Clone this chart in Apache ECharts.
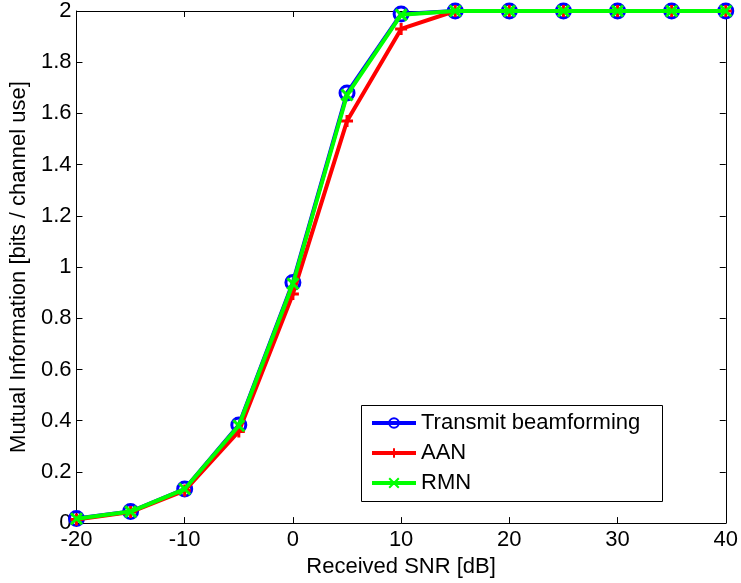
<!DOCTYPE html>
<html><head><meta charset="utf-8">
<script src="https://cdn.jsdelivr.net/npm/echarts@6/dist/echarts.min.js"></script>
<style>html,body{margin:0;padding:0;background:#fff}#c{width:741px;height:583px}</style>
</head><body><div id="c"></div>
<script>
const snr = [-20, -15, -10, -5, 0, 5, 10, 15, 20, 25, 30, 35, 40];
const transmitBF = [0.018, 0.045, 0.133, 0.383, 0.94, 1.68, 1.988, 2, 2, 2, 2, 2, 2];
const aan = [0.014, 0.043, 0.127, 0.358, 0.895, 1.57, 1.93, 2, 2, 2, 2, 2, 2];
const rmn = [0.017, 0.045, 0.133, 0.38, 0.935, 1.672, 1.985, 2, 2, 2, 2, 2, 2];
const seriesNames = ['Transmit beamforming', 'AAN', 'RMN'];
const xName = 'Received SNR [dB]';
const yName = 'Mutual Information [bits / channel use]';

const pair = (xs, ys) => xs.map((x, i) => [x, ys[i]]);
const font = 'Liberation Sans, Arial, sans-serif';
const FS = 22;
const axisCommon = {
  axisLine: {show: true, onZero: false, lineStyle: {color: '#000', width: 1}},
  axisTick: {show: true, inside: true, length: 6, lineStyle: {color: '#000'}},
  splitLine: {show: false},
  axisLabel: {color: '#000', fontSize: FS, fontFamily: font}
};
const colors = ['#0000ff', '#ff0000', '#00ff00'];
const chart = echarts.init(document.getElementById('c'), null, {renderer: 'canvas'});
chart.setOption({
  animation: false,
  backgroundColor: '#fff',
  grid: {left: 76, right: 14, top: 11, bottom: 58},
  xAxis: [
    Object.assign({}, axisCommon, {type: 'value', min: -20, max: 40, interval: 10, position: 'bottom',
      name: xName, nameLocation: 'middle', nameGap: 29,
      nameTextStyle: {color: '#000', fontSize: FS, fontFamily: font},
      axisLabel: {color: '#000', fontSize: FS, fontFamily: font, margin: 6}}),
    Object.assign({}, axisCommon, {type: 'value', min: -20, max: 40, interval: 10, position: 'top',
      axisLabel: {show: false}})
  ],
  yAxis: [
    Object.assign({}, axisCommon, {type: 'value', min: 0, max: 2, interval: 0.2, position: 'left',
      name: yName, nameLocation: 'middle', nameGap: 45,
      nameTextStyle: {color: '#000', fontSize: FS, fontFamily: font},
      axisLabel: {color: '#000', fontSize: FS, fontFamily: font, margin: 5}}),
    Object.assign({}, axisCommon, {type: 'value', min: 0, max: 2, interval: 0.2, position: 'right',
      axisLabel: {show: false}})
  ],
  legend: {
    orient: 'vertical', left: 370, top: 412, itemWidth: 44, itemHeight: 12, itemGap: 8,
    padding: 0,
    textStyle: {color: '#000', fontSize: FS, fontFamily: font, padding: [0, 0, 0, 0]},
    data: seriesNames.map((n, i) => ({name: n, lineStyle: {width: 4, color: colors[i]}}))
  },
  graphic: [{type: 'rect', shape: {x: 361.5, y: 405.5, width: 301, height: 96},
    style: {fill: 'rgba(0,0,0,0)', stroke: '#000', lineWidth: 1}, z: 100}],
  series: [
    {name: seriesNames[0], type: 'line', data: pair(snr, transmitBF), symbol: 'circle', symbolSize: 14,
      lineStyle: {color: colors[0], width: 4},
      itemStyle: {color: 'rgba(0,0,0,0)', borderColor: colors[0], borderWidth: 3}, z: 2},
    {name: seriesNames[1], type: 'line', data: pair(snr, aan), symbol: 'path://M0,5H10M5,0V10', symbolSize: 12,
      lineStyle: {color: colors[1], width: 4},
      itemStyle: {color: colors[1], borderColor: colors[1], borderWidth: 3}, z: 3},
    {name: seriesNames[2], type: 'line', data: pair(snr, rmn), symbol: 'path://M0,0L10,10M10,0L0,10', symbolSize: 11,
      lineStyle: {color: colors[2], width: 4},
      itemStyle: {color: colors[2], borderColor: colors[2], borderWidth: 3}, z: 4}
  ]
});
</script></body></html>
